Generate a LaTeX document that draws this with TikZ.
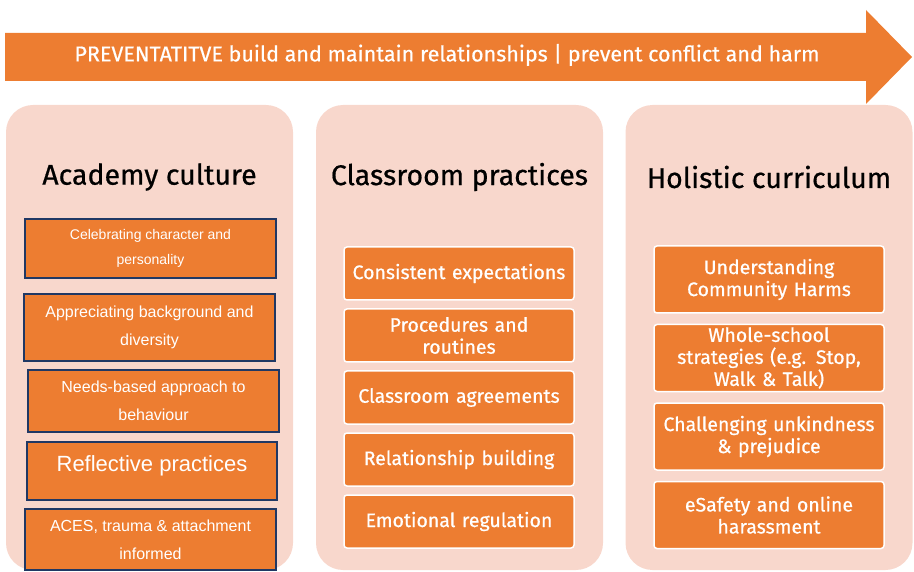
\documentclass[tikz,border=0pt]{standalone}
\usepackage{fontspec}
\setmainfont{Fira Sans}[FakeBold=0.6]
\newfontfamily\arialfont{Liberation Sans}
\usetikzlibrary{positioning}
\definecolor{orangebox}{HTML}{ED7D31}
\definecolor{pinkpanel}{HTML}{F8D7CC}
\definecolor{navyline}{HTML}{203864}

\begin{document}
\begin{tikzpicture}[x=1pt, y=-1pt, node distance=7.5pt]
\tikzstyle{panel}=[fill=pinkpanel, rounded corners=27pt, minimum width=287pt, minimum height=465pt, inner sep=0pt]
\tikzstyle{heading}=[text=black, font=\fontsize{28.5}{32}\selectfont]
\tikzstyle{cultbox}=[fill=orangebox, draw=navyline, line width=1.3pt, text=white, align=center, inner sep=0pt, font=\arialfont\fontsize{16}{28}\selectfont]
\tikzstyle{practbox}=[fill=orangebox, draw=white, line width=1.5pt, rounded corners=3pt, text=white, align=center, text width=230pt, minimum height=53pt, inner sep=0pt, font=\fontsize{19.5}{22}\selectfont]
\tikzstyle{currbox}=[practbox, minimum height=67pt]
\useasboundingbox (0,0) rectangle (914,572);

\fill[orangebox] (5,33) -- (866,33) -- (866,10) -- (912,57) -- (866,104) -- (866,81) -- (5,81) -- cycle;
\node[text=white, font=\fontsize{21.5}{24}\selectfont] (banner) at (447,55) {PREVENTATITVE build and maintain relationships | prevent conflict and harm};

\node[panel] (academy)   at (149.5,337.5) {};
\node[panel] (classroom) at (459.5,337.5) {};
\node[panel] (holistic)  at (769,337.5)   {};

\node[heading] (academyT)   at (149.5,177) {Academy culture};
\node[heading] (classroomT) at (459.5,177) {Classroom practices};
\node[heading] (holisticT)  at (769,177)   {Holistic curriculum};

\node[cultbox, minimum width=251pt, minimum height=59pt, font=\arialfont\fontsize{14}{25}\selectfont] (c1) at (150.5,248.5) {Celebrating character and\\personality};
\node[cultbox, minimum width=251pt, minimum height=67pt] (c2) at (149.5,327.5) {Appreciating background and\\diversity};
\node[cultbox, minimum width=251pt, minimum height=62pt] (c3) at (153.5,401) {Needs-based approach to\\behaviour};
\node[cultbox, minimum width=250pt, minimum height=58pt, text height=16pt, text depth=16pt, font=\arialfont\fontsize{22}{26}\selectfont] (c4) at (152,471) {Reflective practices};
\node[cultbox, minimum width=251pt, minimum height=61pt] (c5) at (150.5,539.5) {ACES, trauma \& attachment\\informed};

\node[practbox] (p1) at (459,273.5) {Consistent expectations};
\node[practbox, below=of p1] (p2) {Procedures and\\routines};
\node[practbox, below=of p2] (p3) {Classroom agreements};
\node[practbox, below=of p3] (p4) {Relationship building};
\node[practbox, below=of p4] (p5) {Emotional regulation};

\node[currbox] (h1) at (769,279.5) {Understanding\\Community Harms};
\node[currbox, below=10pt of h1] (h2) {Whole-school\\strategies (e.g. Stop,\\Walk \& Talk)};
\node[currbox, below=10pt of h2] (h3) {Challenging unkindness\\\& prejudice};
\node[currbox, below=10pt of h3] (h4) {eSafety and online\\harassment};
\end{tikzpicture}
\end{document}
